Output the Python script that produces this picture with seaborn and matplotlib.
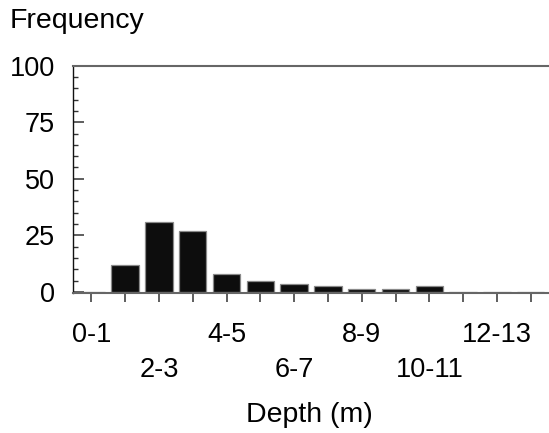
import matplotlib
matplotlib.use("Agg")
import matplotlib.pyplot as plt
import matplotlib.transforms as mtransforms
from matplotlib.ticker import MultipleLocator
import seaborn as sns
import pandas as pd

categories = ["0-1", "1-2", "2-3", "3-4", "4-5", "5-6", "6-7", "7-8",
              "8-9", "9-10", "10-11", "11-12", "12-13", "13-14"]
frequency = [0, 12, 31, 27, 8, 5, 3.5, 2.5, 1.3, 1.3, 2.5, 0, 0, 0]
shown_labels = ["0-1", "2-3", "4-5", "6-7", "8-9", "10-11", "12-13"]
y_ticks = [0, 25, 50, 75, 100]

sns.set_style("white")
plt.rcParams["font.family"] = ["Liberation Sans", "DejaVu Sans"]
plt.rcParams["text.color"] = "black"
plt.rcParams["xtick.labelcolor"] = "black"
plt.rcParams["ytick.labelcolor"] = "black"

W, H = 549, 433
fig = plt.figure(figsize=(W / 100, H / 100), dpi=100)
left_px, top_px, bottom_px = 73, 65.7, 293
step_px = 33.8
xmin, xmax = -0.544, 14.0
ax = fig.add_axes([left_px / W, 1 - bottom_px / H,
                   (xmax - xmin) * step_px / W, (bottom_px - top_px) / H])

df = pd.DataFrame({"Depth": categories, "Frequency": frequency})
sns.barplot(data=df, x="Depth", y="Frequency", order=categories, ax=ax,
            color="#0d0d0d", saturation=1, width=0.81,
            edgecolor="#8a8a8a", linewidth=0.9)

ax.set_xlim(xmin, xmax)
ax.set_ylim(-0.5, 100)

fs = 19.5
ax.set_yticks(y_ticks)
ax.set_yticklabels([str(v) for v in y_ticks], fontsize=fs, color="black")
ax.yaxis.set_minor_locator(MultipleLocator(5))
ax.tick_params(axis="y", which="major", direction="in", length=7.7,
               width=1.1, color="#333333", pad=13, left=True, labelleft=True)
ax.tick_params(axis="y", which="minor", direction="in", length=3.6,
               width=1.0, color="#333333", left=True)

ax.set_xticks(range(len(categories)))
labels = [c if c in shown_labels else "" for c in categories]
ax.set_xticklabels(labels, fontsize=fs, color="black")
ax.tick_params(axis="x", which="major", direction="out", length=6.3,
               width=1.1, color="#333333", pad=14.8, bottom=True)
shift = mtransforms.ScaledTranslation(0, -34.5 / 100, fig.dpi_scale_trans)
for i, lab in enumerate(ax.get_xticklabels()):
    if categories[i] in shown_labels and shown_labels.index(categories[i]) % 2 == 1:
        lab.set_transform(lab.get_transform() + shift)

for side in ["left", "top", "bottom", "right"]:
    ax.spines[side].set_visible(True)
ax.spines["left"].set_color("#111111")
ax.spines["left"].set_linewidth(1.0)
ax.spines["top"].set_color("#666666")
ax.spines["top"].set_linewidth(1.5)
ax.spines["bottom"].set_color("#666666")
ax.spines["bottom"].set_linewidth(1.5)
ax.spines["right"].set_color("#666666")

ax.set_xlabel("")
ax.set_ylabel("")
fig.text(10 / W, 1 - 28.3 / H, "Frequency", fontsize=20.5, ha="left",
         va="baseline", color="black")
fig.text(309 / W, 1 - 421.7 / H, "Depth (m)", fontsize=20.5, ha="center",
         va="baseline", color="black")

fig.savefig("out.png", dpi=100)
